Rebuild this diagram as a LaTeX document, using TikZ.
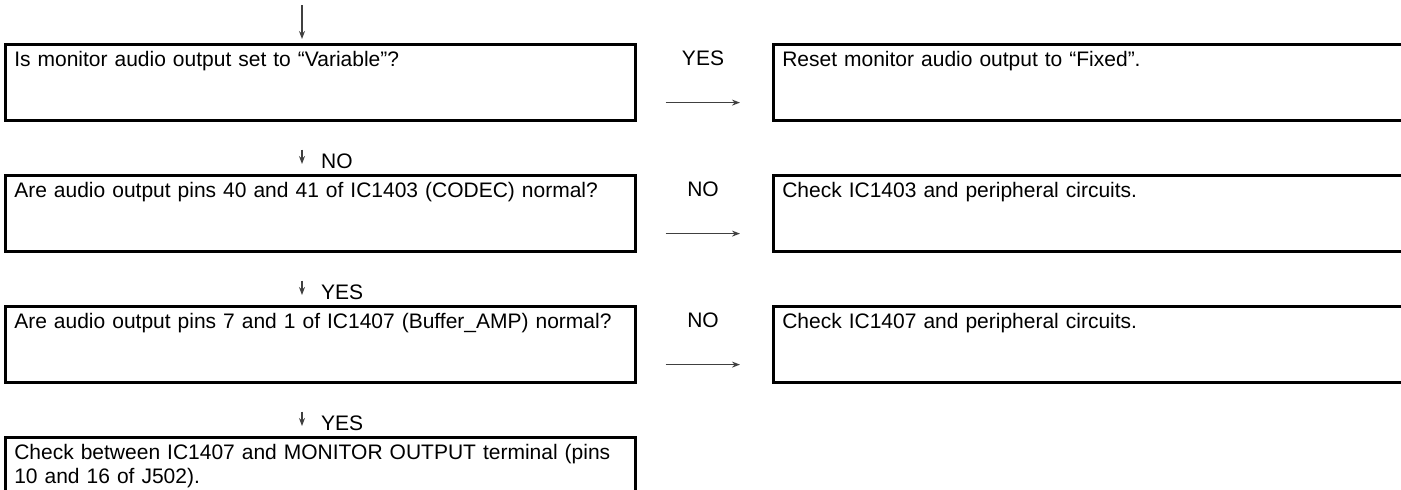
\documentclass[tikz,border=0pt]{standalone}
\usepackage{fontspec}
\setmainfont{Liberation Sans}
\usetikzlibrary{arrows.meta}

\begin{document}
\begin{tikzpicture}[x=1pt, y=-1pt]
% Trouble shooting chart, laid out on the 1401 x 490 page grid
\def\chartfont{\fontsize{21pt}{24pt}\selectfont}
\providecommand{\chartBoxLineWidth}{2.6pt}
\providecommand{\chartArrowColor}{black!75}
\providecommand{\chartArrowWidth}{1.3pt}
\tikzset{
  chartbox/.style={draw=black, line width=\chartBoxLineWidth, rectangle, anchor=north west,
    inner xsep=9pt, inner ysep=4pt, align=left, text height=18pt, text depth=50pt, font=\chartfont},
  askbox/.style={chartbox, text width=612pt},
  fixbox/.style={chartbox, text width=700pt},
  answer/.style={inner sep=0pt, font=\chartfont},
  flow/.style={draw=\chartArrowColor, line width=\chartArrowWidth, -{Stealth[length=8pt, width=6pt]}}
}
\clip (0,0) rectangle (1401,490);
  % Question boxes
  \node[askbox] (q1) at (4,43) {Is monitor audio output set to “Variable”?};
  \node[askbox] (q2) at (4,174) {Are audio output pins 40 and 41 of IC1403 (CODEC) normal?};
  \node[askbox] (q3) at (4,305) {Are audio output pins 7 and 1 of IC1407 (Buffer\_AMP) normal?};
  \node[askbox] (q4) at (4,436) {Check between IC1407 and MONITOR OUTPUT terminal (pins\\10 and 16 of J502).};
  % Remedy boxes
  \node[fixbox] (f1) at (772,43) {Reset monitor audio output to “Fixed”.};
  \node[fixbox] (f2) at (772,174) {Check IC1403 and peripheral circuits.};
  \node[fixbox] (f3) at (772,305) {Check IC1407 and peripheral circuits.};
  % Down arrows
  \coordinate (in) at (302,5);
  \draw[flow, shorten >=4pt] (in) -- (in |- q1.north);
  \draw[flow, shorten <=28pt, shorten >=10pt] (q1.south -| in) -- (q2.north -| in);
  \draw[flow, shorten <=28pt, shorten >=10pt] (q2.south -| in) -- (q3.north -| in);
  \draw[flow, shorten <=28pt, shorten >=10pt] (q3.south -| in) -- (q4.north -| in);
  \node[answer, anchor=base west] (d1) at (321,168) {NO};
  \node[answer, anchor=base west] (d2) at (321,299) {YES};
  \node[answer, anchor=base west] (d3) at (321,430) {YES};
  % Side arrows
  \draw[flow] ([xshift=29pt, yshift=19pt]q1.south east) -- ([xshift=-32pt, yshift=19pt]f1.south west);
  \draw[flow] ([xshift=29pt, yshift=19pt]q2.south east) -- ([xshift=-32pt, yshift=19pt]f2.south west);
  \draw[flow] ([xshift=29pt, yshift=19pt]q3.south east) -- ([xshift=-32pt, yshift=19pt]f3.south west);
  \node[answer, anchor=base] (s1) at (703,65) {YES};
  \node[answer, anchor=base] (s2) at (703,196) {NO};
  \node[answer, anchor=base] (s3) at (703,327) {NO};
\end{tikzpicture}
\end{document}
